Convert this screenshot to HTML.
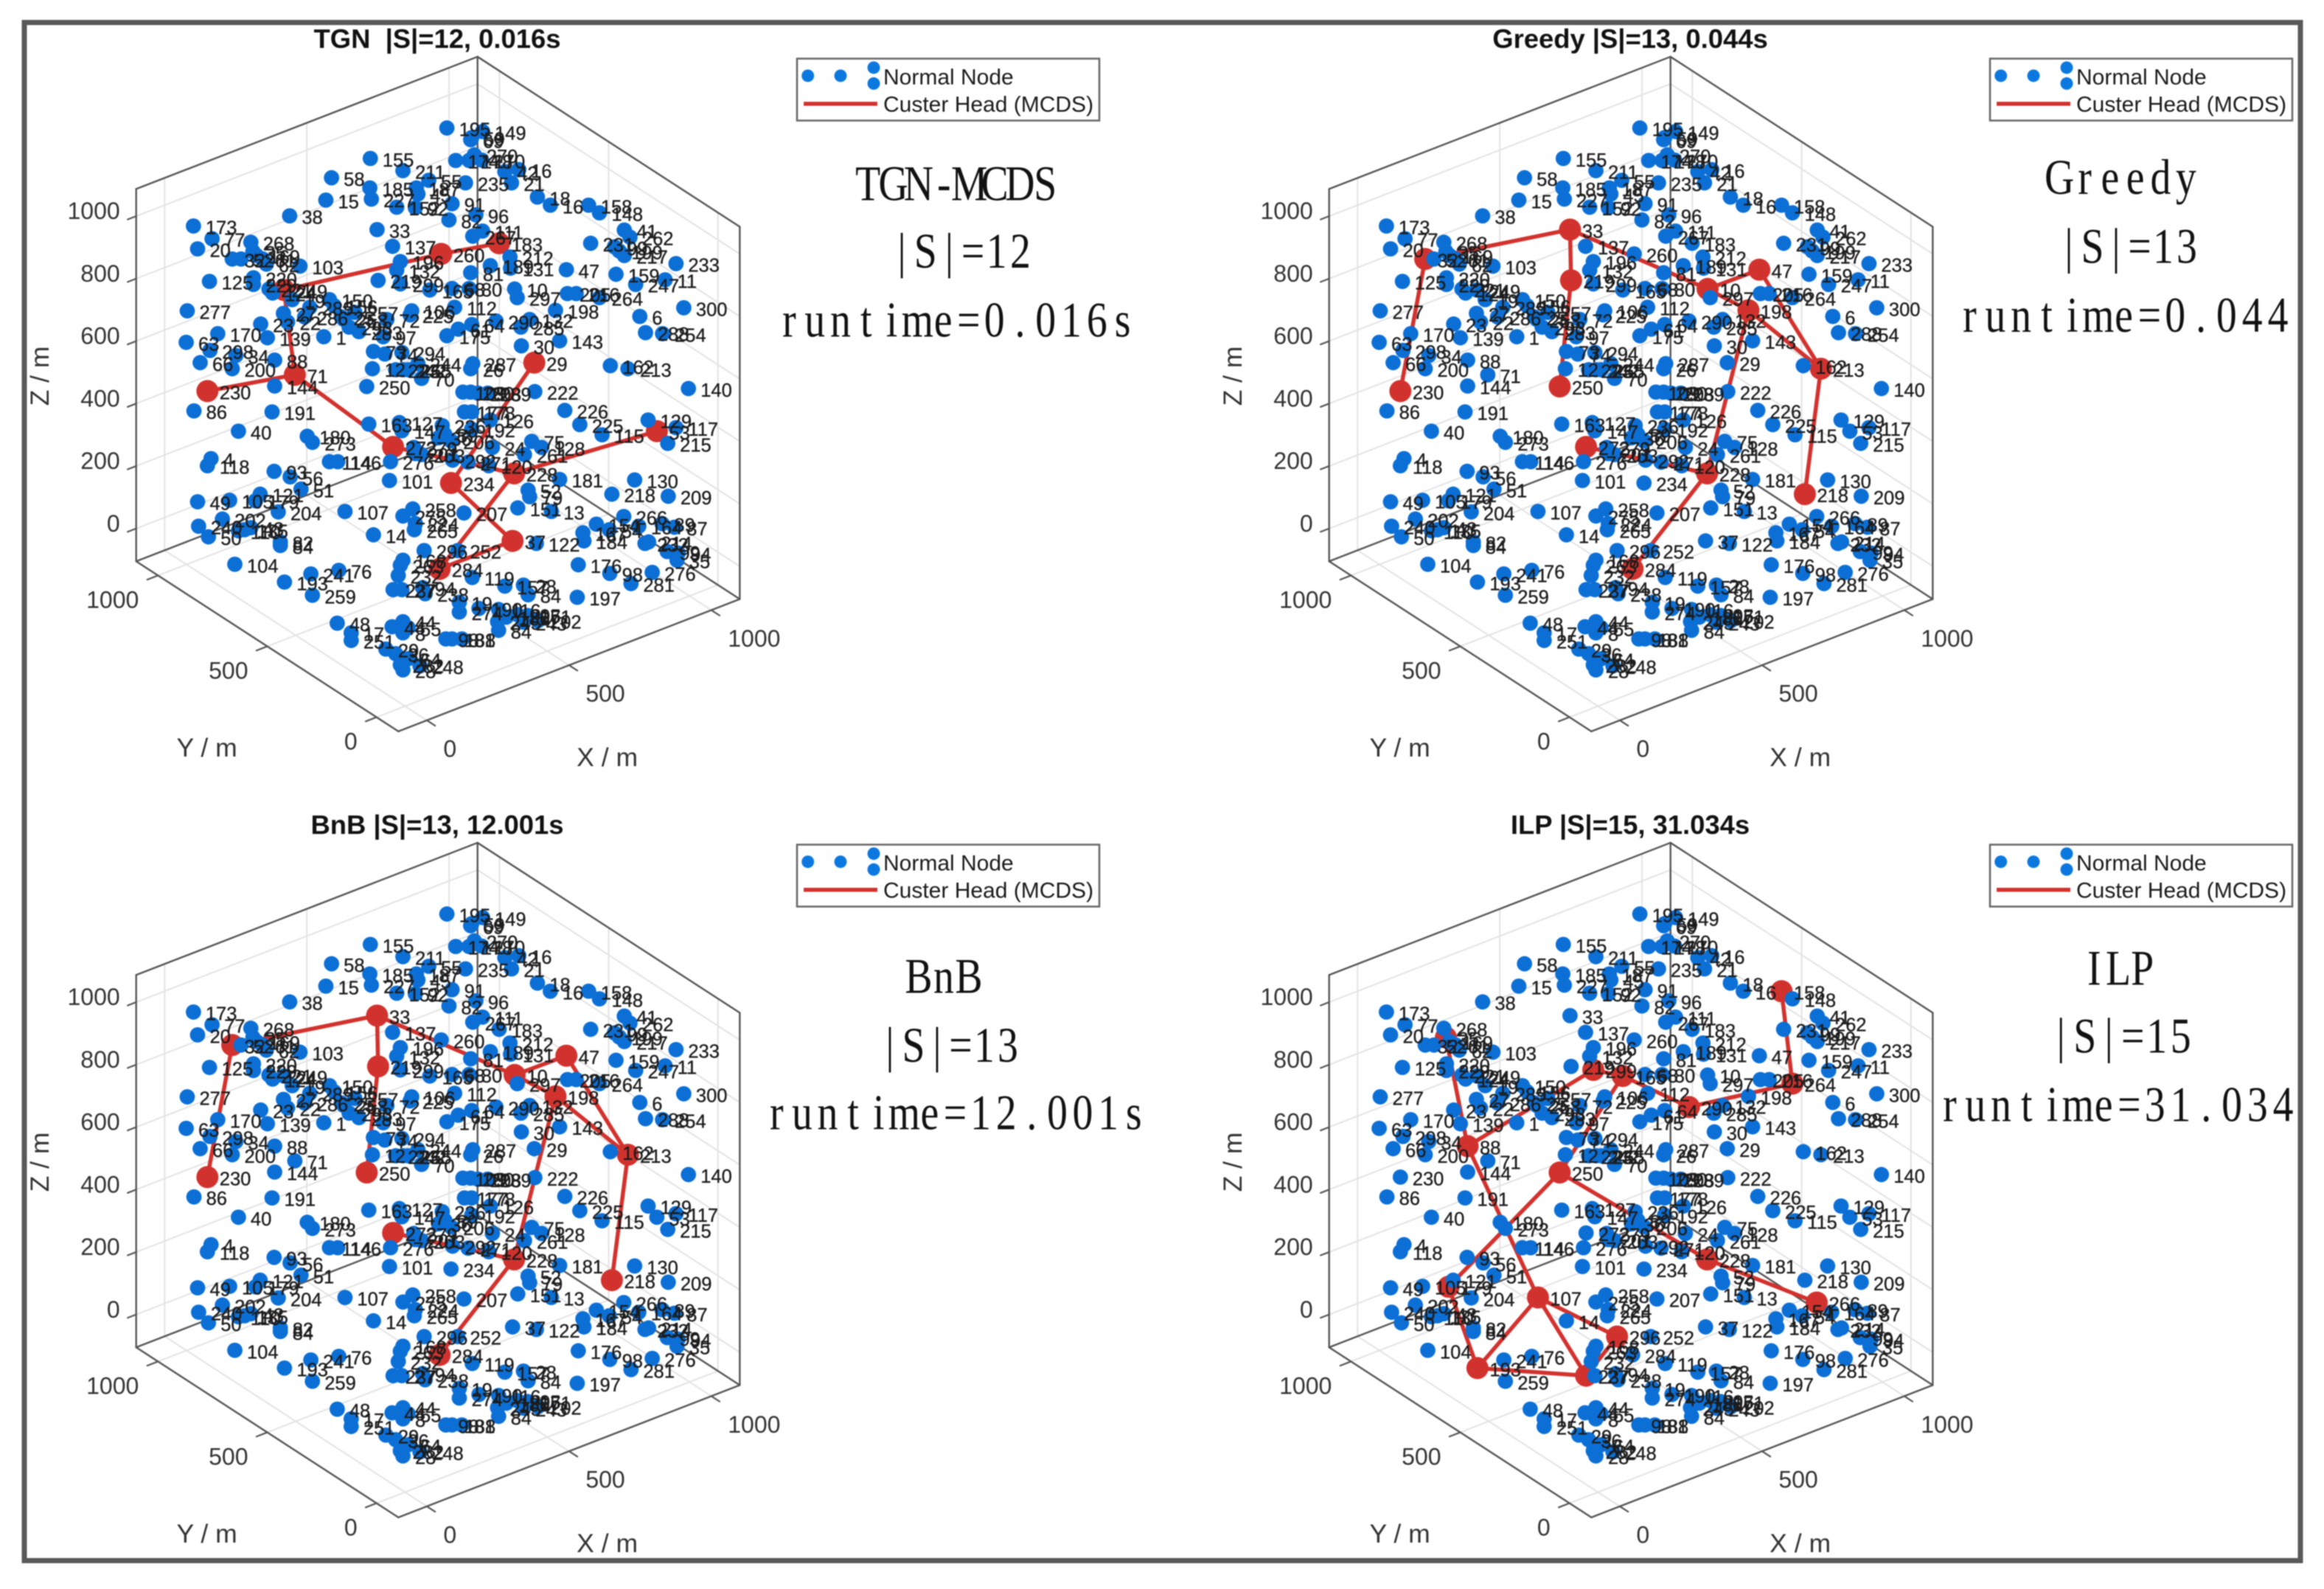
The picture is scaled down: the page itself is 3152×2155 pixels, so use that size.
<!DOCTYPE html>
<html lang="en">
<head>
<meta charset="utf-8">
<title>MCDS comparison: TGN, Greedy, BnB, ILP</title>
<style>
html,body{margin:0;padding:0;background:#fff;width:3152px;height:2155px;overflow:hidden}
svg{display:block;filter:blur(0.8px)}
.title{font:bold 36.4px "Liberation Sans",sans-serif;fill:#111;text-anchor:middle}
.leg{font:30px "Liberation Sans",sans-serif;fill:#1a1a1a}
.note{font:68px "Liberation Serif",serif;fill:#111;text-anchor:middle}
.tick{font:32px "Liberation Sans",sans-serif;fill:#333}
.axt{font:35.5px "Liberation Sans",sans-serif;fill:#333;text-anchor:middle}
.nl{font:25.5px "Liberation Sans",sans-serif;fill:#1c1c1c;stroke:#1c1c1c;stroke-width:.35px}
</style>
</head>
<body>
<svg id="figure" xmlns="http://www.w3.org/2000/svg" width="3152" height="2155" viewBox="0 0 3152 2155">
<rect x="0" y="0" width="3152" height="2155" fill="#fff"/>
<rect x="33" y="30.5" width="3087" height="2086" fill="none" stroke="#595959" stroke-width="7"/>

<g id="panel-tgn"></g>
<g id="panel-greedy" transform="translate(1618,0)"></g>
<g id="panel-bnb" transform="translate(0,1066)"></g>
<g id="panel-ilp" transform="translate(1618,1066)"></g>

<text class="title" x="593" y="65" xml:space="preserve">TGN  |S|=12, 0.016s</text>
<text class="title" x="2211" y="65">Greedy |S|=13, 0.044s</text>
<text class="title" x="593" y="1131">BnB |S|=13, 12.001s</text>
<text class="title" x="2211" y="1131">ILP |S|=15, 31.034s</text>

<g transform="translate(0,0)">
<rect x="1081" y="79.5" width="410" height="84" fill="#fff" stroke="#666" stroke-width="2.5"/>
<circle cx="1095.7" cy="102.7" r="8.5" fill="#0b78e0"/>
<circle cx="1140" cy="102.7" r="8.5" fill="#0b78e0"/>
<circle cx="1185" cy="91.7" r="8.5" fill="#0b78e0"/>
<circle cx="1185" cy="113.3" r="8.5" fill="#0b78e0"/>
<text class="leg" x="1198" y="114.5">Normal Node</text>
<line x1="1090" y1="140.7" x2="1190" y2="140.7" stroke="#d2322d" stroke-width="5.5"/>
<text class="leg" x="1198" y="151.5">Custer Head (MCDS)</text>
</g>
<g transform="translate(1618,0)">
<rect x="1081" y="79.5" width="410" height="84" fill="#fff" stroke="#666" stroke-width="2.5"/>
<circle cx="1095.7" cy="102.7" r="8.5" fill="#0b78e0"/>
<circle cx="1140" cy="102.7" r="8.5" fill="#0b78e0"/>
<circle cx="1185" cy="91.7" r="8.5" fill="#0b78e0"/>
<circle cx="1185" cy="113.3" r="8.5" fill="#0b78e0"/>
<text class="leg" x="1198" y="114.5">Normal Node</text>
<line x1="1090" y1="140.7" x2="1190" y2="140.7" stroke="#d2322d" stroke-width="5.5"/>
<text class="leg" x="1198" y="151.5">Custer Head (MCDS)</text>
</g>
<g transform="translate(0,1066)">
<rect x="1081" y="79.5" width="410" height="84" fill="#fff" stroke="#666" stroke-width="2.5"/>
<circle cx="1095.7" cy="102.7" r="8.5" fill="#0b78e0"/>
<circle cx="1140" cy="102.7" r="8.5" fill="#0b78e0"/>
<circle cx="1185" cy="91.7" r="8.5" fill="#0b78e0"/>
<circle cx="1185" cy="113.3" r="8.5" fill="#0b78e0"/>
<text class="leg" x="1198" y="114.5">Normal Node</text>
<line x1="1090" y1="140.7" x2="1190" y2="140.7" stroke="#d2322d" stroke-width="5.5"/>
<text class="leg" x="1198" y="151.5">Custer Head (MCDS)</text>
</g>
<g transform="translate(1618,1066)">
<rect x="1081" y="79.5" width="410" height="84" fill="#fff" stroke="#666" stroke-width="2.5"/>
<circle cx="1095.7" cy="102.7" r="8.5" fill="#0b78e0"/>
<circle cx="1140" cy="102.7" r="8.5" fill="#0b78e0"/>
<circle cx="1185" cy="91.7" r="8.5" fill="#0b78e0"/>
<circle cx="1185" cy="113.3" r="8.5" fill="#0b78e0"/>
<text class="leg" x="1198" y="114.5">Normal Node</text>
<line x1="1090" y1="140.7" x2="1190" y2="140.7" stroke="#d2322d" stroke-width="5.5"/>
<text class="leg" x="1198" y="151.5">Custer Head (MCDS)</text>
</g>

<text class="note" data-left="1160" data-base="271.5" data-span="275">TGN-MCDS</text>
<text class="note" data-left="1207" data-base="363" data-span="193">|S|=12</text>
<text class="note" data-left="1053" data-base="456.5" data-span="487">runtime=0.016s</text>

<text class="note" data-left="2776" data-base="263" data-span="206">Greedy</text>
<text class="note" data-left="2790" data-base="356.5" data-span="192">|S|=13</text>
<text class="note" data-left="2654" data-base="450" data-span="453">runtime=0.044</text>

<text class="note" data-left="1229" data-base="1346.5" data-span="102">BnB</text>
<text class="note" data-left="1191" data-base="1440" data-span="192">|S|=13</text>
<text class="note" data-left="1036" data-base="1531.5" data-span="519">runtime=12.001s</text>

<text class="note" data-left="2824" data-base="1335.5" data-span="98">ILP</text>
<text class="note" data-left="2779" data-base="1427.5" data-span="195">|S|=15</text>
<text class="note" data-left="2627" data-base="1520.5" data-span="487">runtime=31.034</text>
</svg>

<script>
// Axis tick values (metres)
const xTicks = [0, 500, 1000];
const yTicks = [0, 500, 1000];
const zTicks = [0, 200, 400, 600, 800, 1000];
const xLimits = [-100, 1100];
const yLimits = [-100, 1100];
const zLimits = [-105, 1087];

// Node ids and their positions, on the 3-D view plane
// (only the projected position is recoverable; same units as project()).
const nodeIds = [
195,69,59,149,174,178,270,170,42,16,
235,21,18,16,158,148,155,211,55,58,
185,227,15,38,152,92,45,187,33,137,
173,77,20,268,32,52,35,169,61,62,
103,125,220,229,221,124,249,19,277,27,
22,23,289,286,170,139,1,150,156,25,
293,283,257,253,97,72,106,225,63,298,
66,200,34,88,71,144,230,250,73,74,
12,294,223,242,255,70,244,219,196,132,
299,165,91,82,96,267,111,183,212,131,
189,81,68,80,47,10,297,205,216,264,
198,231,99,217,199,41,262,159,247,11,
233,300,6,288,254,143,290,285,132,112,
64,61,175,30,29,287,26,162,213,140,
222,109,280,208,239,226,225,115,129,117,
53,215,177,178,126,192,236,163,127,147,
39,206,36,24,75,128,261,120,228,234,
181,52,79,207,151,13,37,122,154,54,
266,164,167,184,214,232,89,87,130,218,
209,99,94,35,176,98,281,276,197,119,
157,28,84,19,274,190,116,186,245,84,
295,243,171,202,188,81,98,86,191,40,
180,273,4,118,114,146,93,56,51,101,
49,105,121,179,204,107,240,50,202,110,
135,43,82,84,14,275,258,224,265,104,
241,76,193,259,48,17,251,296,252,284,
168,263,232,237,27,94,238,44,8,44,
55,29,36,64,282,248,28,272,260,279,
276,201,203,292,271
];
const nodeViewH = [
64,110,112,133,81,107,117,131,176,203,
100,189,239,264,338,359,-84,-21,29,-159,
-85,-82,-170,-240,-33,3,8,5,-71,-41,
-426,-390,-418,-315,-351,-334,-311,-304,-292,-285,
-220,-395,-310,-310,-280,-273,-251,-235,-438,-252,
-244,-296,-201,-211,-379,-283,-174,-163,-154,-140,
-125,-106,-114,-135,-59,-52,-4,-7,-440,-394,
-413,-351,-344,-269,-230,-269,-399,-91,-78,-56,
-80,-23,-35,-21,-11,15,8,-69,-26,-33,
-26,31,74,68,120,114,133,165,186,187,
148,110,74,107,295,195,200,297,314,359,
274,342,388,407,397,407,418,391,429,486,
507,522,437,448,481,282,159,207,224,79,
112,86,64,208,233,114,110,380,414,531,
234,95,110,124,143,292,321,364,453,507,
470,491,98,112,148,112,55,-87,-28,-23,
60,72,48,152,228,247,214,145,194,72,
282,221,224,97,201,266,191,237,353,378,
406,435,327,329,454,447,480,504,427,383,
492,490,511,509,318,379,420,461,316,113,
176,212,221,88,88,126,164,179,162,164,
200,212,220,240,74,93,62,-425,-274,-339,
-206,-196,-392,-399,-163,-147,-270,-239,-218,-47,
-418,-356,-297,-306,-262,-133,-416,-397,-370,-339,
-327,-315,-258,-258,-78,-21,-2,3,1,-346,
-199,-145,-250,-196,-148,-121,-121,20,85,50,
-21,-26,-30,-40,-23,17,22,-42,-21,-21,
-11,-54,-35,-11,-26,12,-21,-40,53,0,
-45,3,15,75,105
];
const nodeViewV = [
1048,1025,1029,1041,984,984,995,985,962,966,
940,940,912,896,896,881,988,964,945,950,
930,908,906,875,892,891,918,930,848,815,
855,830,810,823,790,790,805,797,790,780,
776,746,753,740,731,723,729,710,688,683,
666,662,695,676,643,635,637,710,698,676,
656,647,685,671,637,671,688,680,626,610,
586,574,600,591,562,540,530,539,608,603,
574,606,572,572,572,555,584,748,785,768,
741,729,899,867,877,835,845,821,794,772,
777,763,732,732,769,731,714,722,722,714,
689,821,814,797,806,847,833,760,740,749,
781,694,677,645,643,629,668,656,671,695,
661,652,639,619,586,584,574,580,574,535,
529,528,528,526,526,492,464,444,473,458,
451,427,489,489,473,455,462,465,468,452,
445,432,438,419,431,419,405,383,368,349,
356,335,322,290,300,293,235,230,268,257,
283,264,251,235,233,230,269,262,355,327,
323,214,211,197,188,171,151,173,124,163,
146,148,129,114,95,102,100,85,76,59,
90,75,88,78,42,42,42,491,489,451,
441,429,397,383,391,391,372,361,337,354,
312,315,327,314,292,293,264,243,278,255,
257,261,233,226,247,284,298,269,257,189,
170,177,154,128,73,54,39,216,216,180,
197,187,167,139,139,143,131,66,54,76,
64,22,13,3,-9,-11,-19,420,800,419,
391,407,405,394,390
];

// Cluster heads selected by each algorithm (node ids)
const tgnHeads = [230,71,272,249,260,183,29,53,228,234,37,284];
const greedyHeads = [32,33,219,230,250,47,10,198,213,228,218,272,284];
const bnbHeads = [32,33,219,230,250,47,10,198,213,228,218,272,284];
const ilpHeads = [35,299,165,290,264,158,88,250,179,107,193,237,296,228,266];

// Backbone links (pairs of node ids)
const tgnLinks = [[230,71],[71,249],[71,272],[249,260],[260,183],[272,228],[234,37],[29,234],[228,53],[228,284],[37,284]];
const greedyLinks = [[230,32],[32,33],[33,219],[219,250],[33,10],[10,47],[10,198],[47,213],[198,213],[198,228],[213,218],[228,272],[228,284]];
const bnbLinks = [[230,32],[32,33],[33,219],[219,250],[33,10],[10,47],[10,198],[47,213],[198,213],[198,228],[213,218],[228,272],[228,284]];
const ilpLinks = [[35,88],[88,299],[299,165],[165,290],[290,264],[264,158],[88,107],[250,179],[250,165],[250,228],[228,266],[179,193],[107,193],[107,237],[107,296],[193,237],[237,296]];

const NS = 'http://www.w3.org/2000/svg';
const BLUE = '#0b6fd6';
const RED = '#d2322d';

// Axis functions: metres -> view plane -> panel pixels
function project(x, y, z) {
  return [-17 + 0.55 * x - 0.4225 * y, -25.8 + 0.217 * x + 0.279 * y + 0.615 * z];
}
function viewX(h) { return (800 + h) / 1.4255; }
function viewY(v) { return (1300 - v) / 1.4518; }
function pt(x, y, z) {
  const p = project(x, y, z);
  return [viewX(p[0]), viewY(p[1])];
}
function make(tag, parent, attrs) {
  const el = document.createElementNS(NS, tag);
  for (const k in attrs) el.setAttribute(k, attrs[k]);
  parent.appendChild(el);
  return el;
}
function seg(parent, a, b, stroke, width) {
  return make('line', parent, {x1: a[0], y1: a[1], x2: b[0], y2: b[1], stroke: stroke, 'stroke-width': width, 'stroke-linecap': 'round'});
}

function drawAxes(g) {
  const x0 = xLimits[0], x1 = xLimits[1], y0 = yLimits[0], y1 = yLimits[1], z0 = zLimits[0], z1 = zLimits[1];
  const GRID = '#e3e3e3';
  const EDGE = '#555';
  zTicks.forEach(function (z) {
    const a = seg(g, pt(x0, y1, z), pt(x1, y1, z), GRID, 2);
    
    
    const b = seg(g, pt(x1, y1, z), pt(x1, y0, z), GRID, 2);
    
    
  });
  xTicks.forEach(function (x) {
    const a = seg(g, pt(x, y1, z0), pt(x, y1, z1), GRID, 2);
    
    
    const b = seg(g, pt(x, y0, z0), pt(x, y1, z0), GRID, 2);
    
    
  });
  yTicks.forEach(function (y) {
    const a = seg(g, pt(x1, y, z0), pt(x1, y, z1), GRID, 2);
    
    
    const b = seg(g, pt(x0, y, z0), pt(x1, y, z0), GRID, 2);
    
    
  });
  const edges = [
    [[x0, y0, z0], [x1, y0, z0]], [[x0, y0, z0], [x0, y1, z0]],
    [[x0, y1, z0], [x1, y1, z0]], [[x1, y0, z0], [x1, y1, z0]],
    [[x1, y1, z0], [x1, y1, z1]], [[x0, y1, z0], [x0, y1, z1]],
    [[x1, y0, z0], [x1, y0, z1]], [[x0, y1, z1], [x1, y1, z1]],
    [[x1, y0, z1], [x1, y1, z1]]
  ];
  edges.forEach(function (e) {
    const l = seg(g, pt(e[0][0], e[0][1], e[0][2]), pt(e[1][0], e[1][1], e[1][2]), EDGE, 2.4);
    
    
  });
  xTicks.forEach(function (x) {
    const t = seg(g, pt(x, y0, z0), pt(x, y0 - 38, z0), EDGE, 2.2);
    
    
    const a = pt(x, y0, z0);
    const lab = make('text', g, {x: a[0] + 22.5, y: a[1] + 49.5, class: 'tick'});
    lab.textContent = x;
    
    
  });
  yTicks.forEach(function (y) {
    const t = seg(g, pt(x0, y, z0), pt(x0 - 38, y, z0), EDGE, 2.2);
    
    
    const a = pt(x0, y, z0);
    const lab = make('text', g, {x: a[0] - 26, y: a[1] + 44, class: 'tick', 'text-anchor': 'end'});
    lab.textContent = y;
    
    
  });
  zTicks.forEach(function (z) {
    const t = seg(g, pt(x0, y1, z), pt(x0 - 30, y1, z), EDGE, 2.2);
    
    
    const a = pt(x0, y1, z);
    const lab = make('text', g, {x: a[0] - 22, y: a[1] + 4, class: 'tick', 'text-anchor': 'end'});
    lab.textContent = z;
    
    
  });
  const xt = make('text', g, {x: 823.6, y: 1039, class: 'axt'});
  xt.textContent = 'X / m';
  
  
  const yt = make('text', g, {x: 280.6, y: 1026, class: 'axt'});
  yt.textContent = 'Y / m';
  
  
  const zt = make('text', g, {x: 0, y: 0, class: 'axt', transform: 'translate(66,510) rotate(-90)'});
  zt.textContent = 'Z / m';
  
  
}

function nodePx(id) {
  const i = nodeIds.indexOf(id);
  return [viewX(nodeViewH[i]), viewY(nodeViewV[i])];
}

function drawPanel(panelId, heads, links) {
  const g = document.getElementById(panelId);
  drawAxes(g);
  links.forEach(function (link) {
    const l = seg(g, nodePx(link[0]), nodePx(link[1]), RED, 5.5);
    
    
  });
  heads.forEach(function (id) {
    const p = nodePx(id);
    const c = make('circle', g, {cx: p[0], cy: p[1], r: 15, fill: RED});
    
    
  });
  const headIndex = heads.map(function (id) { return nodeIds.indexOf(id); });
  nodeIds.forEach(function (id, i) {
    if (headIndex.indexOf(i) >= 0) return;
    const c = make('circle', g, {cx: viewX(nodeViewH[i]), cy: viewY(nodeViewV[i]), r: 10.4, fill: BLUE});
    
    
  });
  nodeIds.forEach(function (id, i) {
    const t = make('text', g, {x: viewX(nodeViewH[i]) + 16.5, y: viewY(nodeViewV[i]) + 11, class: 'nl'});
    t.textContent = id;
    
    
  });
}

drawPanel('panel-tgn', tgnHeads, tgnLinks);
drawPanel('panel-greedy', greedyHeads, greedyLinks);
drawPanel('panel-bnb', bnbHeads, bnbLinks);
drawPanel('panel-ilp', ilpHeads, ilpLinks);

// The annotation lines use a fixed-width cell per character, condensed horizontally
const NOTE_SQUEEZE = 0.82;
document.querySelectorAll('.note').forEach(function (el) {
  const n = el.textContent.length;
  const cell = parseFloat(el.dataset.span) / n;
  const xs = [];
  for (let i = 0; i < n; i++) xs.push(((i + 0.5) * cell) / NOTE_SQUEEZE);
  el.setAttribute('x', xs.join(' '));
  el.setAttribute('y', 0);
  el.setAttribute('transform', 'translate(' + el.dataset.left + ',' + el.dataset.base + ') scale(' + NOTE_SQUEEZE + ',1)');
});
</script>
</body>
</html>
